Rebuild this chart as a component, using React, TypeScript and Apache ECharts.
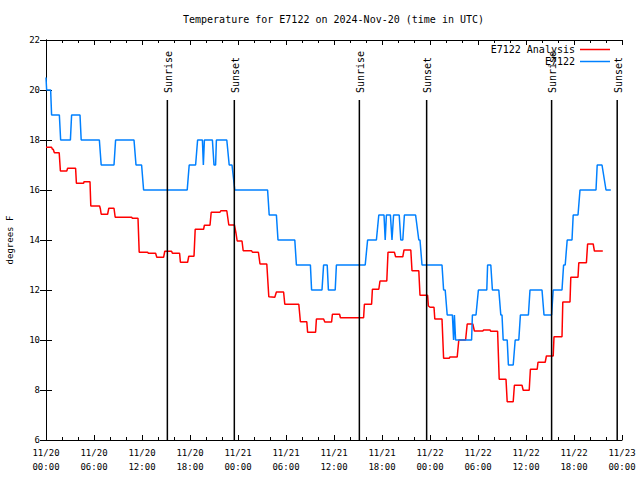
import React, { useEffect, useRef } from "react";
import * as echarts from "echarts";

// hours since 2024-11-20 00:00 UTC, temperature (deg F)
const analysisData: [number, number][] = [
  [0, 17.71], [0.7, 17.71], [0.8, 17.63], [0.9, 17.63], [1.05, 17.49], [1.65, 17.49], [1.8, 16.76], [2.6, 16.76],
  [2.7, 16.87], [3.7, 16.87], [3.8, 16.27], [4.7, 16.27], [4.75, 16.33], [5.5, 16.33], [5.6, 15.36], [6.7, 15.36],
  [6.8, 15.24], [6.9, 15.03], [7.7, 15.03], [7.85, 15.27], [8.5, 15.27], [8.65, 14.91], [10.7, 14.91], [10.8, 14.87],
  [11.5, 14.87], [11.65, 13.51], [12.7, 13.51], [12.8, 13.47], [13.7, 13.47], [13.85, 13.31], [14.7, 13.31],
  [14.85, 13.55], [15.7, 13.55], [15.8, 13.47], [16.7, 13.47], [16.8, 13.11], [17.7, 13.11], [17.85, 13.35],
  [18.5, 13.35], [18.65, 14.43], [19.7, 14.43], [19.8, 14.59], [20.5, 14.59], [20.65, 15.11], [21.75, 15.11],
  [21.85, 15.17], [22.6, 15.17], [22.85, 14.6], [23.55, 14.6], [23.75, 14.27], [23.9, 13.96], [24.5, 13.96],
  [24.65, 13.57], [25.7, 13.57], [25.8, 13.51], [26.55, 13.51], [26.75, 13.04], [27.6, 13.04], [27.85, 11.73],
  [28.6, 11.71], [28.8, 11.92], [29.7, 11.92], [29.85, 11.43], [31.6, 11.43], [31.8, 10.73], [32.6, 10.73],
  [32.7, 10.31], [33.7, 10.31], [33.8, 10.84], [34.7, 10.84], [34.85, 10.72], [35.7, 10.72], [35.8, 11.03],
  [36.7, 11.03], [36.8, 10.89], [39.7, 10.89], [39.8, 11.43], [40.7, 11.43], [40.8, 12.03], [41.6, 12.03],
  [41.75, 12.36], [42.6, 12.36], [42.75, 13.51], [43.55, 13.51], [43.7, 13.33], [44.6, 13.33], [44.75, 13.6],
  [45.6, 13.6], [45.75, 12.77], [46.6, 12.77], [46.75, 11.79], [47.7, 11.79], [47.8, 11.36], [48.0, 11.31],
  [48.5, 11.31], [48.6, 10.84], [49.5, 10.84], [49.7, 9.27], [50.4, 9.27], [50.5, 9.32], [51.4, 9.32], [51.6, 10.0],
  [52.45, 10.0], [52.65, 10.64], [53.35, 10.64], [53.55, 10.36], [54.6, 10.36], [54.7, 10.4], [55.5, 10.4],
  [55.6, 10.35], [56.45, 10.35], [56.65, 8.43], [57.5, 8.43], [57.65, 7.53], [58.4, 7.53], [58.55, 8.19],
  [59.5, 8.19], [59.65, 7.99], [60.4, 7.99], [60.55, 8.83], [61.4, 8.83], [61.5, 9.11], [62.4, 9.11], [62.55, 9.36],
  [63.4, 9.36], [63.5, 10.13], [64.5, 10.13], [64.6, 11.52], [65.5, 11.52], [65.6, 12.51], [66.5, 12.51],
  [66.6, 13.09], [67.55, 13.09], [67.7, 13.84], [68.4, 13.84], [68.55, 13.56], [69.6, 13.56],
];

const observedData: [number, number][] = [
  [0, 20.5], [0.08, 20], [0.58, 20], [0.7, 19], [1.67, 19], [1.83, 18], [3.05, 18], [3.2, 19], [4.25, 19], [4.4, 18],
  [6.67, 18], [6.9, 17], [8.5, 17], [8.7, 18], [11.0, 18], [11.25, 17], [11.95, 17], [12.2, 16], [17.65, 16],
  [17.9, 17], [18.7, 17], [18.95, 18], [19.55, 18], [19.67, 17], [19.8, 18], [20.8, 18], [21.0, 17], [21.2, 17],
  [21.3, 18], [22.6, 18], [22.9, 17], [23.25, 17], [23.6, 16], [27.7, 16], [27.9, 15], [28.8, 15], [29.0, 14],
  [31.1, 14], [31.3, 13], [33.05, 13], [33.2, 12], [34.5, 12], [34.7, 13], [35.15, 13], [35.3, 12], [36.15, 12],
  [36.3, 13], [39.9, 13], [40.2, 14], [41.3, 14], [41.6, 15], [42.25, 15], [42.4, 14], [42.55, 15], [43.05, 15],
  [43.25, 14], [43.45, 15], [44.15, 15], [44.35, 14], [44.6, 14], [44.8, 15], [46.2, 15], [46.6, 14], [46.75, 14],
  [47.0, 13], [49.5, 13], [49.7, 12], [49.9, 12], [50.15, 11], [50.8, 11], [50.95, 10], [51.05, 11], [51.2, 10],
  [53.2, 10], [53.3, 11], [53.75, 11], [54.05, 12], [55.1, 12], [55.2, 13], [55.6, 13], [55.8, 12], [56.6, 12],
  [56.85, 11], [57.0, 11], [57.15, 10], [57.65, 10], [57.8, 9], [58.4, 9], [58.65, 10], [59.1, 10], [59.3, 11],
  [60.3, 11], [60.5, 12], [62.0, 12], [62.25, 11], [63.2, 11], [63.4, 12], [64.5, 12], [64.7, 13], [64.9, 13],
  [65.15, 14], [65.75, 14], [65.9, 15], [66.5, 15], [66.75, 16], [68.75, 16], [68.9, 17], [69.5, 17], [70.0, 16],
  [70.6, 16],
];

const sunTimes = [15.17, 23.54, 39.17, 47.58, 63.2, 71.4];
const sunLabels = ["Sunrise", "Sunset", "Sunrise", "Sunset", "Sunrise", "Sunset"];

const seriesNames = ["E7122 Analysis", "E7122"];
const seriesColors = ["#ff0000", "#0080ff"];

const yTicks = { min: 6, max: 22, interval: 2 };
const xTicks = { min: 0, max: 72, interval: 6 };
const days = ["11/20", "11/21", "11/22", "11/23"];

const FONT = "DejaVu Sans Mono";

export default function App() {
  const ref = useRef<HTMLDivElement>(null);
  useEffect(() => {
    if (!ref.current) return;
    const chart = echarts.init(ref.current, null, { renderer: "svg" });
    const xLabel = (v: number) => {
      const d = Math.floor(v / 24);
      const h = Math.round(v - d * 24);
      return `${days[d]}\n${String(h).padStart(2, "0")}:00`;
    };
    const xBase = {
      type: "value" as const,
      min: xTicks.min,
      max: xTicks.max,
      interval: xTicks.interval,
      splitLine: { show: false },
      axisLine: { lineStyle: { color: "#000", width: 1 } },
      axisTick: { inside: true, length: 5, lineStyle: { color: "#000" } },
      minorTick: { show: true, splitNumber: 3, length: 3, lineStyle: { color: "#000" } },
    };
    const yBase = {
      type: "value" as const,
      min: yTicks.min,
      max: yTicks.max,
      interval: yTicks.interval,
      splitLine: { show: false },
      axisLine: { show: true, lineStyle: { color: "#000", width: 1 } },
      axisTick: { show: true, inside: true, length: 6, lineStyle: { color: "#000" } },
    };
    chart.setOption({
      animation: false,
      backgroundColor: "#fff",
      title: {
        text: "Temperature for E7122 on 2024-Nov-20 (time in UTC)",
        left: 178,
        top: 9,
        textStyle: { fontFamily: FONT, fontSize: 10, fontWeight: "normal", color: "#000" },
      },
      legend: {
        data: seriesNames.map((n) => ({ name: n, icon: "rect" })),
        orient: "vertical",
        right: 25,
        top: 39,
        align: "right",
        itemWidth: 30,
        itemHeight: 1.5,
        itemGap: 1,
        textStyle: { fontFamily: FONT, fontSize: 10, color: "#000", lineHeight: 11 },
      },
      grid: { left: 46, right: 18, top: 40, bottom: 40, containLabel: false, outerBoundsMode: "none" },
      xAxis: [
        {
          ...xBase,
          position: "bottom",
          axisLabel: {
            formatter: xLabel,
            fontFamily: FONT,
            fontSize: 9,
            color: "#000",
            lineHeight: 14,
            margin: 6,
          },
        },
        { ...xBase, position: "top", axisLabel: { show: false } },
      ],
      yAxis: [
        {
          ...yBase,
          position: "left",
          name: "degrees F",
          nameLocation: "middle",
          nameRotate: 90,
          nameGap: 32,
          nameTextStyle: { fontFamily: FONT, fontSize: 9, color: "#000" },
          axisLabel: { fontFamily: FONT, fontSize: 9, color: "#000", margin: 6 },
        },
        { ...yBase, position: "right", axisLabel: { show: false } },
      ],
      series: [
        {
          name: seriesNames[0],
          type: "line",
          data: analysisData,
          showSymbol: false,
          symbol: "none",
          color: seriesColors[0],
          lineStyle: { color: seriesColors[0], width: 1.5 },
          z: 3,
        },
        {
          name: seriesNames[1],
          type: "line",
          data: observedData,
          showSymbol: false,
          symbol: "none",
          color: seriesColors[1],
          lineStyle: { color: seriesColors[1], width: 1.5 },
          z: 3,
        },
        {
          name: "sun",
          type: "custom",
          data: sunTimes.map((t, i) => [t, yTicks.min, i]),
          encode: { x: 0, y: 1 },
          clip: false,
          z: 4,
          renderItem: (params: any, api: any) => {
            const t = api.value(0);
            const idx = api.value(2);
            const bottom = api.coord([t, yTicks.min]);
            const cs = params.coordSys;
            const top = cs.y + cs.height * 0.15;
            return {
              type: "group",
              children: [
                {
                  type: "line",
                  shape: { x1: bottom[0], y1: bottom[1], x2: bottom[0], y2: top },
                  style: { stroke: "#000", lineWidth: 1.5 },
                },
                {
                  type: "text",
                  x: bottom[0] + 1,
                  y: top - 7,
                  rotation: Math.PI / 2,
                  style: {
                    text: sunLabels[idx],
                    fontFamily: FONT,
                    fontSize: 10,
                    fill: "#000",
                    align: "left",
                    verticalAlign: "middle",
                  },
                },
              ],
            };
          },
        },
      ],
    });
    return () => chart.dispose();
  }, []);
  return (
    <div
      ref={ref}
      style={{ position: "fixed", left: 0, top: 0, width: 640, height: 480, background: "#fff" }}
    />
  );
}
